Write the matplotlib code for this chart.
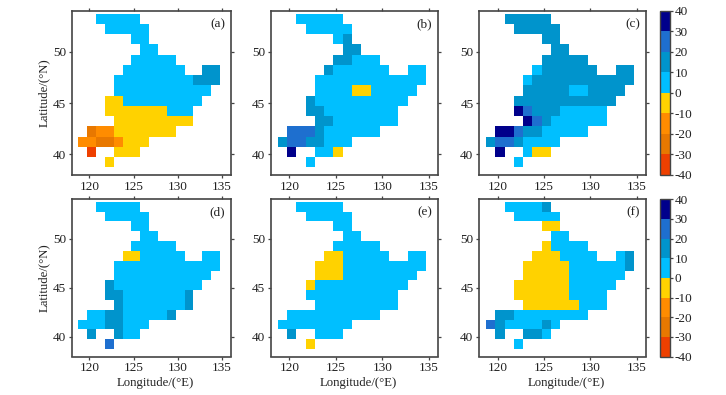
import numpy as np
import matplotlib
matplotlib.use("Agg")
import matplotlib.pyplot as plt
from matplotlib.colors import ListedColormap, BoundaryNorm
from matplotlib.cm import ScalarMappable

plt.rcParams['font.family'] = ['Liberation Serif', 'DejaVu Serif']
plt.rcParams['axes.unicode_minus'] = False

lon_edges = np.arange(118.75, 134.76, 1.0)
lat_edges = np.arange(53.75, 38.74, -1.0)

levels = [-40, -30, -20, -10, 0, 10, 20, 30, 40]
colors = ['#EE4000', '#E87800', '#FF8C00', '#FFD200', '#00BFFF', '#0094CC', '#1E6FCF', '#00008B']
code_value = {'R': -35, 'D': -25, 'O': -15, 'Y': -5, 'B': 5, 'T': 15, 'M': 25, 'N': 35}

panel_a = ["..BBBBB.........", "...BBBBB........", "......BB........", ".......BB.......",
           "......BBBBB.....", ".....BBBBBBB..TT", "....BBBBBBBBBTTT", "....BBBBBBBBBBB.",
           "...YYBBBBBBBBB..", "...YYYYYYYBBB...", "....YYYYYYYYY...", ".DOOYYYYYYY.....",
           "OODDOYYY........", ".R..YYY.........", "...Y............"]
panel_b = ["..BBBBB.........", "...BBBBB........", "......BT........", ".......TT.......",
           "......TTBBB.....", ".....TBBBBBB..BB", "....BBBBBBBBBBBB", "....BBBBYYBBBBB.",
           "...TBBBBBBBBBB..", "...TTBBBBBBBB...", "....TTBBBBBBB...", ".MMMTBBBBBB.....",
           "TMMTTBBB........", ".N..BBY.........", "...B............"]
panel_c = ["..TTTTT.........", "...TTTTT........", "......TT........", ".......TT.......",
           "......TTTTT.....", ".....BTTTTTT..TT", "....BTTTTTTTTTTT", "....TTTTTBBTTTT.",
           "...TTTTTTTTTTT..", "...NMTTTBBBBB...", "....NMTBBBBBB...", ".NNMTTBBBBB.....",
           "TMMTBBBB........", ".N..BYY.........", "...B............"]
panel_d = ["..BBBBB.........", "...BBBBB........", "......BB........", ".......BB.......",
           "......BBBBB.....", ".....YYBBBBB..BB", "....BBBBBBBBBBBB", "....BBBBBBBBBBB.",
           "...TBBBBBBBBBB..", "...TTBBBBBBBT...", "....TBBBBBBBT...", ".BBTTBBBBBT.....",
           "BBBTTBBB........", ".T..TBB.........", "...M............"]
panel_e = ["..BBBBB.........", "...BBBBB........", "......BB........", ".......BB.......",
           "......BBBBB.....", ".....YYBBBBB..BB", "....YYYBBBBBBBBB", "....YYYBBBBBBBB.",
           "...YBBBBBBBBBB..", "...BBBBBBBBBB...", "....BBBBBBBBB...", ".BBBBBBBBBB.....",
           "BBBBBBBB........", ".T..BBB.........", "...Y............"]
panel_f = ["..BBBBT.........", "...BBBBB........", "......YY........", ".......BB.......",
           "......YBBBB.....", ".....YYYBBBB..BT", "....YYYYYBBBBBBT", "....YYYYYBBBBBB.",
           "...YYYYYYBBBBB..", "...YYYYYYBBBB...", "....YYYYYYBBB...", ".TTBBBBBBBB.....",
           "MTBBBBTB........", ".T..TTB.........", "...B............"]

panels = [panel_a, panel_b, panel_c, panel_d, panel_e, panel_f]
labels = ['(a)', '(b)', '(c)', '(d)', '(e)', '(f)']
lon_ticks = [120, 125, 130, 135]
lat_ticks = [40, 45, 50]
cbar_ticks = [40, 30, 20, 10, 0, -10, -20, -30, -40]

W, H = 726, 395
def box(l, t, r, b):
    return [l / W, 1 - b / H, (r - l) / W, (b - t) / H]

lefts = [(71.7, 231), (270.7, 438), (479, 646)]
rows = [(11, 175), (199.3, 356.5)]
spine = '#444444'
fs = 9.5
label_fs = 9.2

cmap = ListedColormap(colors)
norm = BoundaryNorm(levels, cmap.N)
fig = plt.figure(figsize=(W / 100, H / 100), dpi=100)

for i, (rows_txt, lab) in enumerate(zip(panels, labels)):
    l, r = lefts[i % 3]
    t, b = rows[i // 3]
    ax = fig.add_axes(box(l, t, r, b))
    vals = np.array([[code_value.get(c, np.nan) for c in s] for s in rows_txt], dtype=float)
    ax.pcolormesh(lon_edges, lat_edges, np.ma.masked_invalid(vals), cmap=cmap, norm=norm)
    ax.set_xlim(118, 136)
    ax.set_ylim(38, 54)
    ax.set_xticks(lon_ticks)
    ax.set_yticks(lat_ticks)
    ax.tick_params(top=True, right=True, direction='out', length=2.5, width=0.9,
                   color=spine, labelcolor='#222222', labelsize=fs, pad=1.5)
    for s in ax.spines.values():
        s.set_color(spine)
        s.set_linewidth(1.2)
    ax.text(0.965, 0.92, lab, transform=ax.transAxes, ha='right', va='center',
            fontsize=fs, color='#222222')
    if i % 3 == 0:
        ax.set_ylabel('Latitude/(°N)', fontsize=label_fs, color='#222222', labelpad=2)
    if i // 3 == 1:
        ax.set_xlabel('Longitude/(°E)', fontsize=label_fs, color='#222222', labelpad=2, x=0.523)

for t, b in rows:
    cax = fig.add_axes(box(659.5, t, 670, b))
    cb = fig.colorbar(ScalarMappable(norm=norm, cmap=cmap), cax=cax, ticks=cbar_ticks,
                      spacing='proportional', drawedges=False)
    cb.ax.tick_params(direction='out', length=2.5, width=0.9, color=spine,
                      labelsize=fs, labelcolor='#222222', pad=1)
    cb.ax.minorticks_off()
    cb.outline.set_edgecolor(spine)
    cb.outline.set_linewidth(1.0)

fig.savefig('out.png', dpi=100)
